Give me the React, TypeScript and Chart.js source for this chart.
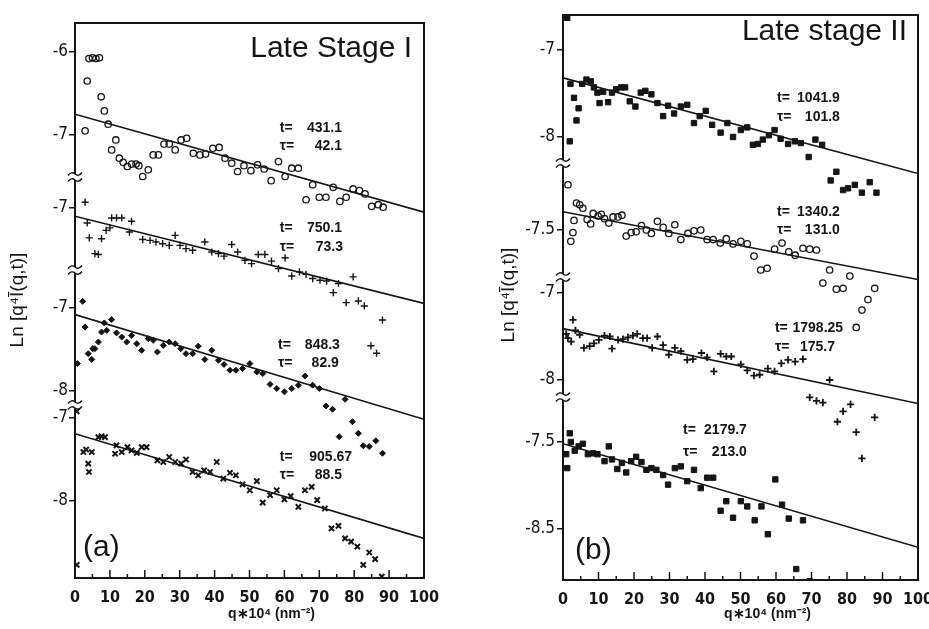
import React, { useEffect, useRef } from 'react';
import { Chart, registerables } from 'chart.js';

Chart.register(...registerables);

// ---------------- DATA ----------------
const qTickValues = [0, 10, 20, 30, 40, 50, 60, 70, 80, 90, 100];
const fitQ = [0, 100];

// Panel (a) "Late Stage I"
const qA1 = [2.9, 3.5, 4.0, 5.0, 6.0, 7.0, 7.5, 8.4, 9.5, 10.5, 11.7, 12.7, 13.8, 15.0, 16.2, 17.5, 18.3, 19.4, 21.0, 22.4, 23.9, 25.5, 27.0, 28.7, 30.4, 32.0, 33.9, 35.8, 37.4, 39.5, 41.3, 43.0, 44.9, 46.6, 48.4, 50.4, 52.3, 54.2, 56.2, 58.3, 60.2, 62.1, 64.0, 66.2, 68.1, 70.0, 71.9, 74.0, 75.9, 77.7, 79.7, 81.5, 83.1, 85.0, 86.9, 88.3];
const lnA1 = [-6.95, -6.35, -6.08, -6.07, -6.08, -6.07, -6.54, -6.71, -6.87, -7.18, -7.06, -7.28, -7.33, -7.38, -7.35, -7.35, -7.37, -7.50, -7.42, -7.24, -7.24, -7.11, -7.11, -7.18, -7.06, -7.04, -7.22, -7.24, -7.23, -7.16, -7.15, -7.28, -7.34, -7.44, -7.37, -7.43, -7.36, -7.41, -7.55, -7.32, -7.50, -7.40, -7.40, -7.78, -7.60, -7.75, -7.75, -7.63, -7.80, -7.75, -7.65, -7.67, -7.71, -7.86, -7.84, -7.87];

const qA2 = [2.9, 3.5, 4.1, 5.7, 6.7, 7.6, 8.9, 10.0, 10.5, 11.9, 13.4, 15.6, 16.2, 19.4, 21.5, 23.2, 25.1, 27.0, 28.7, 30.1, 31.8, 33.7, 37.2, 39.2, 41.1, 42.7, 44.9, 46.6, 48.7, 50.6, 52.5, 54.4, 56.3, 58.3, 60.2, 62.1, 64.3, 66.2, 68.1, 70.2, 72.1, 74.0, 75.5, 77.7, 79.7, 81.2, 82.9, 84.8, 86.4, 88.1];
const lnA2 = [-6.93, -7.18, -7.36, -7.55, -7.56, -7.37, -7.27, -7.24, -7.12, -7.12, -7.12, -7.29, -7.16, -7.38, -7.39, -7.41, -7.43, -7.45, -7.33, -7.45, -7.49, -7.51, -7.41, -7.53, -7.55, -7.58, -7.44, -7.53, -7.63, -7.67, -7.56, -7.56, -7.64, -7.73, -7.60, -7.82, -7.77, -7.80, -7.85, -7.87, -7.88, -8.02, -7.91, -8.14, -7.83, -8.12, -8.18, -8.66, -8.75, -8.35];

const qA3 = [0.7, 2.2, 2.9, 3.8, 4.8, 5.1, 5.7, 6.7, 7.6, 8.4, 9.1, 10.5, 11.9, 13.4, 14.8, 16.2, 17.7, 19.1, 21.0, 22.4, 23.6, 25.3, 27.0, 28.7, 30.3, 31.8, 33.7, 35.3, 37.2, 39.2, 41.1, 42.7, 44.4, 46.1, 48.0, 50.1, 52.1, 53.8, 55.9, 57.8, 60.0, 62.1, 64.0, 65.9, 68.1, 70.0, 71.9, 73.8, 75.7, 77.4, 79.5, 81.2, 82.6, 84.3, 86.2, 88.1];
const lnA3 = [-7.67, -6.92, -7.23, -7.55, -7.62, -7.49, -7.49, -7.41, -7.29, -7.18, -7.27, -7.14, -7.30, -7.35, -7.41, -7.33, -7.43, -7.51, -7.37, -7.39, -7.53, -7.45, -7.41, -7.43, -7.49, -7.55, -7.55, -7.46, -7.62, -7.51, -7.63, -7.68, -7.75, -7.75, -7.73, -7.67, -7.77, -7.79, -7.92, -7.97, -8.01, -7.97, -7.93, -7.82, -7.93, -7.97, -8.18, -8.22, -8.55, -8.10, -8.37, -8.51, -8.66, -8.67, -8.60, -8.75];

const qA4 = [0.5, 0.5, 2.4, 3.2, 3.8, 4.0, 4.8, 6.7, 7.6, 8.6, 11.5, 11.9, 13.4, 15.0, 16.2, 17.7, 19.1, 20.5, 23.6, 25.3, 27.0, 28.7, 30.4, 31.8, 33.7, 35.3, 37.0, 38.7, 40.6, 42.5, 44.4, 46.1, 48.0, 50.1, 52.1, 53.8, 55.9, 57.8, 60.0, 61.8, 64.0, 65.9, 67.8, 69.4, 71.6, 73.5, 75.5, 77.4, 79.1, 80.9, 82.6, 84.3, 86.0, 87.9];
const lnA4 = [-6.92, -8.77, -7.41, -7.38, -7.55, -7.65, -7.41, -7.23, -7.22, -7.23, -7.43, -7.33, -7.41, -7.35, -7.39, -7.42, -7.35, -7.35, -7.51, -7.53, -7.47, -7.53, -7.55, -7.50, -7.65, -7.69, -7.63, -7.65, -7.53, -7.73, -7.66, -7.69, -7.80, -7.87, -7.76, -8.02, -7.93, -7.87, -7.98, -7.94, -8.07, -7.87, -7.83, -7.99, -8.09, -8.33, -8.30, -8.45, -8.49, -8.55, -8.77, -8.62, -8.70, -8.91];

const fitA1 = [-6.75, -7.93];
const fitA2 = [-7.10, -8.15];
const fitA3 = [-7.08, -8.34];
const fitA4 = [-7.19, -8.45];

const timesA = ['431.1', '750.1', '848.3', '905.67'];
const tausA = ['42.1', '73.3', '82.9', '88.5'];
const yTicksA = [[-6, -7], [-7], [-7, -8], [-7, -8]];

// Panel (b) "Late stage II"
const qB1 = [1.2, 1.9, 2.1, 3.1, 3.8, 4.4, 5.4, 6.6, 7.8, 8.7, 9.7, 10.3, 11.3, 12.7, 13.8, 15.0, 16.4, 17.5, 18.8, 20.4, 21.9, 23.2, 24.9, 26.6, 28.2, 29.6, 31.3, 33.2, 35.0, 36.9, 38.5, 40.2, 42.0, 44.4, 46.3, 47.9, 50.1, 51.9, 53.5, 54.9, 56.3, 58.0, 59.6, 61.3, 63.4, 65.3, 67.0, 69.2, 71.1, 73.0, 75.4, 77.0, 78.9, 80.3, 82.2, 84.2, 86.4, 88.3];
const lnB1 = [-6.63, -8.05, -7.39, -7.55, -7.81, -7.67, -7.39, -7.34, -7.36, -7.43, -7.49, -7.61, -7.48, -7.60, -7.49, -7.45, -7.43, -7.43, -7.59, -7.65, -7.49, -7.47, -7.51, -7.61, -7.76, -7.64, -7.73, -7.65, -7.63, -7.84, -7.76, -7.70, -7.86, -7.95, -7.84, -8.00, -7.92, -7.89, -8.09, -8.08, -8.03, -7.98, -7.92, -8.02, -8.08, -8.05, -8.07, -8.23, -8.03, -8.09, -8.50, -8.40, -8.61, -8.59, -8.55, -8.64, -8.52, -8.64];

const qB2 = [1.4, 2.2, 2.8, 3.1, 3.8, 4.7, 5.6, 6.8, 7.8, 8.5, 9.9, 10.8, 11.7, 12.9, 14.1, 15.5, 16.6, 17.8, 19.2, 20.6, 22.1, 23.5, 24.9, 26.6, 28.2, 29.8, 31.5, 33.2, 35.2, 36.9, 38.8, 40.6, 42.3, 44.3, 46.0, 47.9, 50.1, 51.9, 53.8, 55.7, 57.5, 59.6, 61.7, 63.6, 65.4, 67.6, 69.5, 71.4, 73.2, 75.1, 77.0, 78.9, 80.8, 82.6, 84.2, 85.9, 87.8];
const lnB2 = [-6.98, -7.63, -7.53, -7.39, -7.19, -7.21, -7.25, -7.38, -7.43, -7.31, -7.34, -7.32, -7.37, -7.42, -7.35, -7.35, -7.33, -7.57, -7.53, -7.52, -7.45, -7.50, -7.54, -7.40, -7.47, -7.54, -7.44, -7.61, -7.54, -7.51, -7.50, -7.61, -7.61, -7.65, -7.60, -7.66, -7.63, -7.66, -7.80, -7.96, -7.94, -7.72, -7.65, -7.75, -7.79, -7.71, -7.72, -7.73, -8.11, -7.96, -8.18, -8.17, -8.03, -8.62, -8.42, -8.30, -8.17];

const qB3 = [0.9, 1.4, 2.3, 2.8, 3.5, 4.7, 5.9, 7.5, 8.7, 10.1, 11.7, 13.2, 13.8, 15.5, 16.9, 18.3, 19.7, 20.9, 22.5, 23.7, 25.1, 26.6, 28.2, 29.8, 31.5, 33.2, 35.0, 36.6, 39.0, 40.6, 42.5, 44.4, 46.0, 47.4, 50.1, 51.9, 53.8, 55.4, 57.7, 59.6, 61.5, 63.4, 65.4, 67.6, 69.5, 71.4, 73.2, 75.1, 77.3, 78.9, 81.0, 82.6, 84.2, 87.8];
const lnB3 = [-7.47, -7.52, -7.56, -7.31, -7.43, -7.48, -7.63, -7.61, -7.58, -7.54, -7.49, -7.50, -7.64, -7.54, -7.53, -7.51, -7.49, -7.47, -7.52, -7.52, -7.63, -7.50, -7.60, -7.71, -7.63, -7.67, -7.77, -7.76, -7.69, -7.74, -7.90, -7.70, -7.73, -7.73, -7.82, -7.89, -7.95, -7.94, -7.87, -7.90, -7.81, -7.77, -7.79, -7.76, -8.20, -8.24, -8.26, -8.00, -8.48, -8.36, -8.28, -8.60, -8.90, -8.43];

const qB4 = [0.9, 1.2, 1.9, 2.2, 3.3, 4.4, 5.6, 7.0, 8.5, 9.7, 11.7, 12.9, 13.8, 15.3, 16.6, 17.8, 19.2, 20.6, 22.1, 23.5, 24.9, 26.3, 28.2, 29.6, 31.5, 33.2, 35.0, 36.9, 38.8, 40.6, 42.3, 44.4, 46.0, 47.9, 50.1, 51.9, 54.0, 55.9, 57.7, 59.8, 61.7, 63.6, 65.7, 67.6, 69.5];
const lnB4 = [-7.64, -7.80, -7.40, -7.50, -7.60, -7.55, -7.52, -7.64, -7.63, -7.64, -7.72, -7.55, -7.70, -7.81, -7.74, -7.85, -7.72, -7.67, -7.73, -7.82, -7.80, -7.82, -7.88, -7.99, -7.80, -7.78, -7.95, -7.82, -8.03, -7.91, -7.91, -8.29, -8.18, -8.37, -8.18, -8.24, -8.40, -8.24, -8.56, -7.93, -8.22, -8.38, -8.96, -8.40, -9.10];

const fitB1 = [-7.32, -8.42];
const fitB2 = [-7.29, -8.07];
const fitB3 = [-7.41, -8.27];
const fitB4 = [-7.52, -8.71];

const timesB = ['1041.9', '1340.2', '1798.25', '2179.7'];
const tausB = ['101.8', '131.0', '175.7', '213.0'];
const yTicksB = [[-7, -8], [-7.5], [-7, -8], [-7.5, -8.5]];

// ---------------- LAYOUT / STYLE ----------------
const H = 629;
const COND = '"Liberation Sans Narrow", "DejaVu Sans Condensed", "Liberation Sans", Arial, sans-serif';
const SANS = '"Liberation Sans", Arial, Helvetica, sans-serif';
const INK = '#151515';

type Marker = { style: string; r: number; fill: boolean; bw: number };

const PANEL_A = {
  title: 'Late Stage I',
  tag: '(a)',
  left: 0,
  width: 480,
  area: { left: 75, right: 424, top: 23, bottom: 578 },
  yMin: -12.337,
  yMax: -5.651,
  offsets: [0, -0.8795, -2.0843, -3.4096],
  breaks: [-7.506, -8.627, -10.253],
  yTicks: yTicksA,
  series: [
    { q: qA1, v: lnA1, fit: fitA1 },
    { q: qA2, v: lnA2, fit: fitA2 },
    { q: qA3, v: lnA3, fit: fitA3 },
    { q: qA4, v: lnA4, fit: fitA4 },
  ],
  markers: [
    { style: 'circle', r: 3.2, fill: false, bw: 1.3 },
    { style: 'cross', r: 3.6, fill: false, bw: 1.4 },
    { style: 'rectRot', r: 3.0, fill: true, bw: 1 },
    { style: 'crossRot', r: 3.7, fill: false, bw: 2 },
  ] as Marker[],
  times: timesA,
  taus: tausA,
  ann: [
    { tq: 58.7, nq: 76.5, nq2: 76.5, vt: -6.92, vs: -7.14 },
    { tq: 58.7, nq: 76.5, nq2: 76.8, vt: -7.24, vs: -7.47 },
    { tq: 58.2, nq: 75.9, nq2: 75.6, vt: -7.45, vs: -7.66 },
    { tq: 58.7, nq: 79.4, nq2: 76.5, vt: -7.47, vs: -7.69 },
  ],
  titleDx: -12, titleDy: 34,
  tagDx: 8, tagDy: -22,
  yTitleX: 18, yTitleY: 300,
  xTitleDx: 22,
  tickPad: 1,
};

const PANEL_B = {
  title: 'Late stage II',
  tag: '(b)',
  left: 480,
  width: 449,
  area: { left: 83, right: 438, top: 15, bottom: 580 },
  yMin: -13.092,
  yMax: -6.598,
  offsets: [0, -1.569, -2.793, -4.006],
  breaks: [-8.299, -9.609, -10.989],
  yTicks: yTicksB,
  series: [
    { q: qB1, v: lnB1, fit: fitB1 },
    { q: qB2, v: lnB2, fit: fitB2 },
    { q: qB3, v: lnB3, fit: fitB3 },
    { q: qB4, v: lnB4, fit: fitB4 },
  ],
  markers: [
    { style: 'rect', r: 3.8, fill: true, bw: 1 },
    { style: 'circle', r: 3.2, fill: false, bw: 1.3 },
    { style: 'cross', r: 3.6, fill: false, bw: 1.8 },
    { style: 'rect', r: 3.8, fill: true, bw: 1 },
  ] as Marker[],
  times: timesB,
  taus: tausB,
  ann: [
    { tq: 60.3, nq: 78.0, nq2: 78.0, vt: -7.55, vs: -7.77 },
    { tq: 60.3, nq: 78.0, nq2: 78.0, vt: -7.29, vs: -7.50 },
    { tq: 59.7, nq: 78.9, nq2: 76.6, vt: -7.40, vs: -7.62 },
    { tq: 33.8, nq: 51.8, nq2: 51.8, vt: -7.36, vs: -7.62 },
  ],
  titleDx: -11, titleDy: 25,
  tagDx: 12, tagDy: -21,
  yTitleX: 29, yTitleY: 295,
  xTitleDx: 27,
  tickPad: 2,
};

type PanelCfg = typeof PANEL_A;

function buildTickEntries(cfg: PanelCfg) {
  const out: { value: number; label: string }[] = [];
  cfg.yTicks.forEach((vals, s) => {
    vals.forEach((v) => out.push({ value: v + cfg.offsets[s], label: String(v) }));
  });
  return out;
}

const decorPlugin = {
  id: 'decor',
  afterDraw(chart: any, _args: any, opts: any) {
    const cfg: PanelCfg = opts.cfg;
    const { ctx, chartArea: a, scales } = chart;
    const xs = scales.x;
    const ys = scales.y;
    ctx.save();
    ctx.strokeStyle = INK;
    ctx.fillStyle = INK;

    // frame
    ctx.lineWidth = 2;
    ctx.strokeRect(a.left, a.top, a.right - a.left, a.bottom - a.top);

    // inward x ticks
    ctx.lineWidth = 1.5;
    for (let q = 0; q <= 100; q += 5) {
      const x = xs.getPixelForValue(q);
      const len = q % 10 === 0 ? 8 : 4;
      ctx.beginPath();
      ctx.moveTo(x, a.bottom);
      ctx.lineTo(x, a.bottom - len);
      ctx.stroke();
    }

    // axis breaks
    for (const d of cfg.breaks) {
      const y = ys.getPixelForValue(d);
      ctx.fillStyle = '#fff';
      ctx.fillRect(a.left - 2, y - 3, 4, 6);
      ctx.fillStyle = INK;
      ctx.lineWidth = 1.4;
      for (const dy of [-3, 3]) {
        ctx.beginPath();
        ctx.moveTo(a.left - 7, y + dy + 1.5);
        ctx.quadraticCurveTo(a.left - 3.5, y + dy - 3, a.left, y + dy);
        ctx.quadraticCurveTo(a.left + 3.5, y + dy + 3, a.left + 7, y + dy - 1.5);
        ctx.stroke();
      }
    }

    // annotations t= / tau=
    ctx.font = `bold 14px ${SANS}`;
    ctx.textBaseline = 'middle';
    cfg.ann.forEach((an, s) => {
      const off = cfg.offsets[s];
      const yT = ys.getPixelForValue(an.vt + off);
      const yS = ys.getPixelForValue(an.vs + off);
      const xL = xs.getPixelForValue(an.tq);
      ctx.textAlign = 'left';
      ctx.fillText('t=', xL, yT);
      ctx.fillText('\u03c4=', xL, yS);
      ctx.textAlign = 'right';
      ctx.fillText(cfg.times[s], xs.getPixelForValue(an.nq), yT);
      ctx.fillText(cfg.taus[s], xs.getPixelForValue(an.nq2), yS);
    });

    // panel title and tag
    ctx.font = `30px ${SANS}`;
    ctx.textBaseline = 'alphabetic';
    ctx.textAlign = 'right';
    ctx.fillText(cfg.title, a.right + cfg.titleDx, a.top + cfg.titleDy);
    ctx.textAlign = 'left';
    ctx.fillText(cfg.tag, a.left + cfg.tagDx, a.bottom + cfg.tagDy);

    // x title
    ctx.font = `bold 14px ${SANS}`;
    ctx.textAlign = 'center';
    ctx.textBaseline = 'middle';
    ctx.fillText('q\u221710\u2074 (nm\u207b\u00b2)', (a.left + a.right) / 2 + cfg.xTitleDx, 614);

    // y title
    ctx.save();
    ctx.translate(cfg.yTitleX, cfg.yTitleY);
    ctx.rotate(-Math.PI / 2);
    ctx.font = `19px ${SANS}`;
    ctx.textAlign = 'center';
    ctx.textBaseline = 'middle';
    ctx.fillText('Ln [q\u2074\u012a(q,t)]', 0, 0);
    ctx.restore();

    ctx.restore();
  },
};

function Panel({ cfg }: { cfg: PanelCfg }) {
  const ref = useRef<HTMLCanvasElement>(null);

  useEffect(() => {
    const canvas = ref.current;
    if (!canvas) return;
    const tickEntries = buildTickEntries(cfg);
    const datasets: any[] = [];
    cfg.series.forEach((s, i) => {
      const off = cfg.offsets[i];
      datasets.push({
        type: 'scatter',
        data: fitQ.map((q, k) => ({ x: q, y: s.fit[k] + off })),
        showLine: true,
        borderColor: INK,
        borderWidth: 1.6,
        pointRadius: 0,
        fill: false,
      });
    });
    cfg.series.forEach((s, i) => {
      const off = cfg.offsets[i];
      const m = cfg.markers[i];
      datasets.push({
        type: 'scatter',
        data: s.q.map((q, k) => ({ x: q, y: s.v[k] + off })),
        pointStyle: m.style,
        pointRadius: m.r,
        pointBorderWidth: m.bw,
        borderColor: INK,
        backgroundColor: m.fill ? INK : 'rgba(0,0,0,0)',
        pointBackgroundColor: m.fill ? INK : 'rgba(0,0,0,0)',
        showLine: false,
      });
    });

    const chart = new Chart(canvas, {
      type: 'scatter',
      data: { datasets },
      plugins: [decorPlugin as any],
      options: {
        responsive: false,
        animation: false,
        devicePixelRatio: 1,
        layout: {
          padding: { left: 0, top: cfg.area.top, right: cfg.width - cfg.area.right, bottom: 0 },
        },
        plugins: {
          legend: { display: false },
          tooltip: { enabled: false },
          decor: { cfg },
        } as any,
        scales: {
          x: {
            type: 'linear',
            min: 0,
            max: 100,
            afterBuildTicks: (scale: any) => {
              scale.ticks = qTickValues.map((v) => ({ value: v }));
            },
            afterFit: (scale: any) => {
              scale.height = H - cfg.area.bottom;
              scale.paddingLeft = 0;
              scale.paddingRight = 0;
            },
            grid: { display: false, drawTicks: false },
            border: { display: false },
            ticks: {
              padding: 10,
              autoSkip: false,
              maxRotation: 0,
              color: INK,
              font: { family: COND, size: 16, weight: 'bold' },
              callback: (v: any) => String(v),
            },
          },
          y: {
            type: 'linear',
            min: cfg.yMin,
            max: cfg.yMax,
            afterBuildTicks: (scale: any) => {
              scale.ticks = tickEntries.map((e) => ({ value: e.value }));
            },
            afterFit: (scale: any) => {
              scale.width = cfg.area.left;
            },
            grid: {
              display: true,
              drawOnChartArea: false,
              drawTicks: true,
              tickLength: 6,
              color: INK,
              lineWidth: 1.5,
            },
            border: { display: false },
            ticks: {
              padding: cfg.tickPad,
              autoSkip: false,
              color: INK,
              font: { family: COND, size: 17 },
              callback: (v: any) => {
                const e = tickEntries.find((t) => Math.abs(t.value - Number(v)) < 1e-6);
                return e ? e.label : '';
              },
            },
          },
        },
      } as any,
    });
    return () => chart.destroy();
  }, [cfg]);

  return (
    <canvas
      ref={ref}
      width={cfg.width}
      height={H}
      style={{ position: 'absolute', left: cfg.left, top: 0, width: cfg.width, height: H }}
    />
  );
}

export default function App() {
  return (
    <div style={{ position: 'absolute', left: 0, top: 0, width: 929, height: H, background: '#fff', overflow: 'hidden' }}>
      <Panel cfg={PANEL_A} />
      <Panel cfg={PANEL_B} />
    </div>
  );
}
